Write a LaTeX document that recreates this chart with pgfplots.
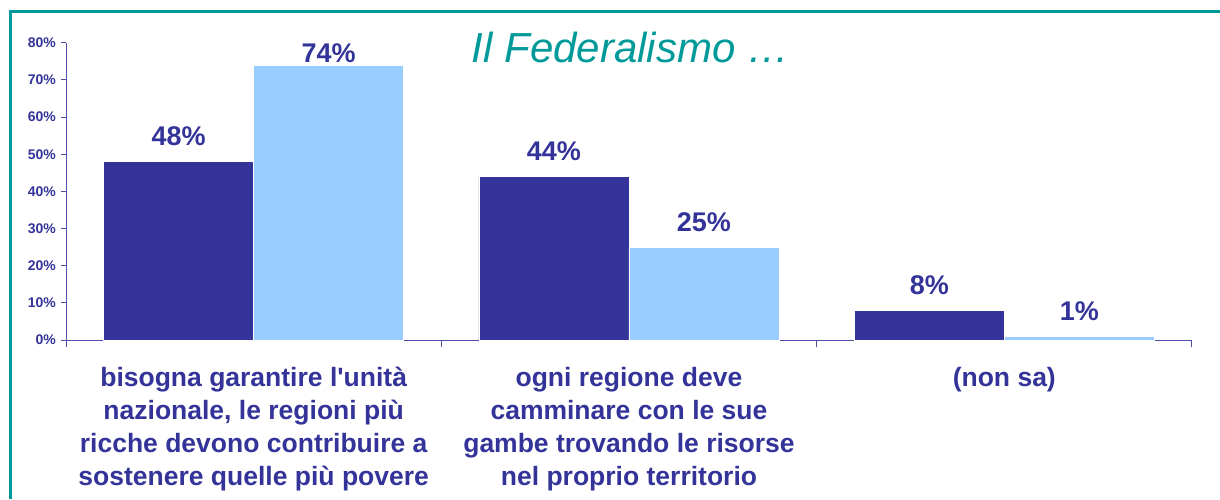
\documentclass[border=0pt]{standalone}
\usepackage{pgfplots}
\pgfplotsset{compat=1.18}
\usepackage{fontspec}
\setmainfont{Liberation Sans}[Ligatures=TeXOff]
\definecolor{dark}{HTML}{333399}
\definecolor{light}{HTML}{99CCFF}
\definecolor{teal2}{HTML}{009999}
\definecolor{axc}{HTML}{5050A8}
\begin{document}
\begin{tikzpicture}[x=1pt,y=1pt]
\useasboundingbox (0,0) rectangle (1220,499);
\draw[teal2, line width=2.2pt] (10.5,0) -- (10.5,487.5) -- (1220,487.5);
\node[anchor=base, inner sep=0pt, text=teal2, font=\fontsize{42}{42}\selectfont\itshape] at (630.5,436) {Il Federalismo …};
\begin{axis}[
  at={(66pt,159pt)}, anchor=south west,
  scale only axis, width=1126pt, height=297.3pt,
  xmin=-0.5, xmax=2.5, ymin=0, ymax=80,
  axis x line=bottom, axis y line=left,
  axis line style={-, draw=axc, line width=1pt},
  clip=false,
  ybar, bar width=150pt,
  /pgf/number format/assume math mode=true,
  ytick={0,10,...,80},
  yticklabel={\pgfmathprintnumber{\tick}\%},
  yticklabel style={font=\fontsize{14}{14}\selectfont\bfseries, text=dark, inner sep=0pt, anchor=east, xshift=-5pt},
  tick align=outside, major tick length=5pt, minor tick length=7pt,
  tick style={draw=axc, line width=1pt},
  xtick={0,1,2},
  minor xtick={-0.5,0.5,1.5,2.5},
  xticklabels={{bisogna garantire l'unità\\nazionale, le regioni più\\ricche devono contribuire a\\sostenere quelle più povere},
               {ogni regione deve\\camminare con le sue\\gambe trovando le risorse\\nel proprio territorio},
               {(non sa)}},
  xticklabel style={font=\fontsize{26.5}{33}\selectfont\bfseries, text=dark, align=center, inner sep=0pt, anchor=north, yshift=-22pt},
  major x tick style={draw=none},
  minor x tick style={draw=axc, line width=1pt},
  nodes near coords={\pgfmathprintnumber{\pgfplotspointmeta}\%},
  visualization depends on={value \thisrow{s} \as \lblshift},
  every node near coord/.append style={font=\fontsize{27}{27}\selectfont\bfseries, text=dark, anchor=base, inner sep=0pt, yshift=\lblshift pt},
]
\addplot[fill=dark, draw=white, line width=0.8pt, bar shift=-75pt] table {
x y s
0 48 16
1 44 16
2 8 16
};
\addplot[fill=light, draw=white, line width=0.8pt, bar shift=75pt] table {
x y s
0 74 2.5
1 25 16
2 1 16
};
\end{axis}
\end{tikzpicture}
\end{document}
